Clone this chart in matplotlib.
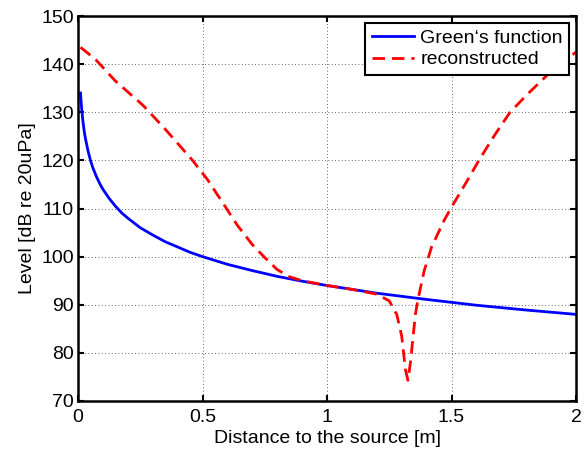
import numpy as np
import matplotlib
matplotlib.use('Agg')
import matplotlib.pyplot as plt

# Values
green_r = [0.01, 0.012, 0.015, 0.02, 0.025, 0.03, 0.04, 0.05, 0.06, 0.075, 0.09, 0.1,
           0.125, 0.15, 0.175, 0.2, 0.25, 0.3, 0.35, 0.4, 0.45, 0.5, 0.6, 0.7,
           0.8, 0.9, 1.0, 1.2, 1.4, 1.6, 1.8, 2.0]
green_level = [134.0, 132.4, 130.5, 128.0, 126.0, 124.5, 122.0, 120.0, 118.4, 116.5,
               114.9, 114.0, 112.1, 110.5, 109.1, 108.0, 106.0, 104.5, 103.1, 102.0,
               100.9, 100.0, 98.4, 97.1, 95.9, 94.9, 94.0, 92.4, 91.1, 89.9, 88.9, 88.0]

recon_r = [0.01, 0.07, 0.15, 0.26, 0.35, 0.46, 0.52, 0.59, 0.64, 0.70, 0.75, 0.80,
           0.85, 0.90, 1.00, 1.10, 1.20, 1.25, 1.28, 1.30, 1.315, 1.325, 1.335,
           1.345, 1.355, 1.365, 1.39, 1.42, 1.47, 1.50, 1.56, 1.61, 1.67, 1.735,
           1.81, 1.88, 1.95, 2.0]
recon_level = [143.5, 141.0, 136.5, 131.5, 126.5, 120.0, 116.0, 110.5, 106.5, 102.5,
               99.8, 97.3, 95.8, 95.0, 94.0, 93.2, 92.2, 90.8, 88.0, 83.5, 76.5,
               74.3, 78.0, 83.0, 88.0, 91.0, 97.0, 102.0, 107.5, 110.3, 115.5,
               120.0, 125.0, 130.0, 134.0, 137.5, 140.5, 142.5]

x_ticks = [0, 0.5, 1, 1.5, 2]
x_tick_labels = ['0', '0.5', '1', '1.5', '2']
y_ticks = [70, 80, 90, 100, 110, 120, 130, 140, 150]

plt.rcParams['font.family'] = ['Liberation Sans', 'DejaVu Sans']

fig = plt.figure(figsize=(5.84, 4.5), dpi=100)
ax = fig.add_axes([0.1336, 0.1089, 0.8527, 0.8555])

ax.plot(green_r, green_level, color='#0000ff', lw=2, label='Green\u2018s function')
ax.plot(recon_r, recon_level, color='#ff0000', lw=2, linestyle=(0, (4.5, 2.5)),
        label='reconstructed')

ax.set_xlim(0, 2)
ax.set_ylim(70, 150)
ax.set_xticks(x_ticks)
ax.set_xticklabels(x_tick_labels)
ax.set_yticks(y_ticks)
ax.tick_params(direction='in', top=True, right=True, labelsize=14,
               width=1.5, length=4)
ax.tick_params(axis='x', pad=6)
ax.tick_params(axis='y', pad=3)
for s in ax.spines.values():
    s.set_linewidth(1.8)

ax.grid(True, color='black', linestyle=(0, (1, 3)), linewidth=0.6, alpha=0.8)

ax.set_xlabel('Distance to the source [m]', fontsize=14, labelpad=3)
ax.set_ylabel('Level [dB re 20uPa]', fontsize=14, labelpad=4)

leg = ax.legend(loc='upper right', fontsize=14, fancybox=False, framealpha=1,
                edgecolor='black', borderaxespad=0.35, handlelength=2.2,
                borderpad=0.33, labelspacing=0.2, handletextpad=0.3)
leg.get_frame().set_linewidth(1.5)

plt.savefig('out.png', dpi=100)
plt.close()
